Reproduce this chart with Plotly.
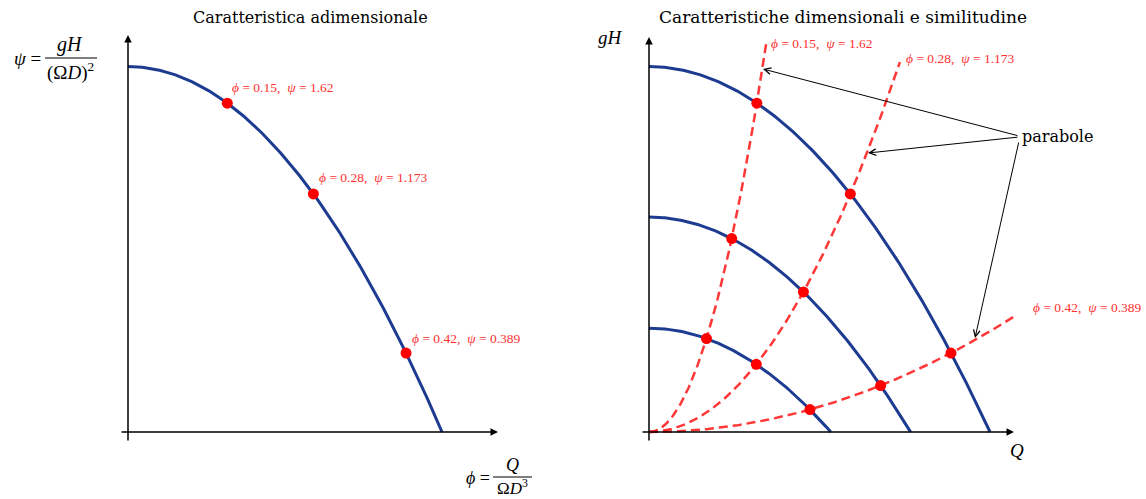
import numpy as np
import plotly.graph_objects as go

# ---- data ----
PHI = [0.15, 0.28, 0.42]          # flow coefficient of the marked points
PSI = [1.62, 1.173, 0.389]        # head coefficient of the marked points
PSI0 = 1.8                        # characteristic: psi = PSI0 - K*phi^2
K = 8.0
OMEGA = [1.0, 0.767, 0.533]       # relative speeds of the three dimensional curves
Q_END = [0.163, 0.349, 0.511]     # where each similarity parabola stops
LABELS = ["\u03d5 = 0.15,\u00a0\u00a0\u03c8 = 1.62",
          "\u03d5 = 0.28,\u00a0\u00a0\u03c8 = 1.173",
          "\u03d5 = 0.42,\u00a0\u00a0\u03c8 = 0.389"]

W, H = 1146, 499
X0L, SXL = 128, 662
X0R, SXR = 649, 719
Y0, SY = 432, 203

BLUE = "#1d3c91"
RED = "#ff0000"
DRED = "rgba(255,20,20,0.85)"
LRED = "#ff3030"
SERIF = "DejaVu Serif"
MATH = "Liberation Serif"


def lab(s):
    s = s.replace("\u03d5", "<i>\u03d5</i>").replace("\u03c8", "<i>\u03c8</i>")
    return s


def pxL(px, py):
    return (px - X0L) / SXL, (Y0 - py) / SY


def pxR(px, py):
    return (px - X0R) / SXR, (Y0 - py) / SY


fig = go.Figure()

# left: dimensionless characteristic
phi_max = np.sqrt(PSI0 / K)
phi = np.linspace(0, phi_max, 200)
fig.add_trace(go.Scatter(x=phi, y=PSI0 - K * phi**2, mode="lines",
                         line=dict(color=BLUE, width=3), xaxis="x", yaxis="y",
                         hoverinfo="skip"))
fig.add_trace(go.Scatter(x=PHI, y=PSI, mode="markers",
                         marker=dict(color=RED, size=11), xaxis="x", yaxis="y"))

# right: dimensional curves
for om in OMEGA:
    q = np.linspace(0, phi_max * om, 200)
    gh = (PSI0 - K * (q / om) ** 2) * om**2
    fig.add_trace(go.Scatter(x=q, y=gh, mode="lines",
                             line=dict(color=BLUE, width=3), xaxis="x2", yaxis="y2",
                             hoverinfo="skip"))
for p, s, qe in zip(PHI, PSI, Q_END):
    q = np.linspace(0, qe, 200)
    fig.add_trace(go.Scatter(x=q, y=s / p**2 * q**2, mode="lines",
                             line=dict(color=DRED, width=2.5, dash="9px,5px"),
                             xaxis="x2", yaxis="y2", hoverinfo="skip"))
qs, hs = [], []
for om in OMEGA:
    for p, s in zip(PHI, PSI):
        qs.append(p * om)
        hs.append(s * om**2)
fig.add_trace(go.Scatter(x=qs, y=hs, mode="markers",
                         marker=dict(color=RED, size=11), xaxis="x2", yaxis="y2"))

ann = []
shapes = []

# axis arrows
def arrow(ref, x0, y0, x1, y1, head=2, width=1.5, size=1.0, color="black"):
    xr, yr = ("x", "y") if ref == "L" else ("x2", "y2")
    f = pxL if ref == "L" else pxR
    ax, ay = f(x0, y0)
    x, y = f(x1, y1)
    ann.append(dict(x=x, y=y, ax=ax, ay=ay, xref=xr, yref=yr, axref=xr, ayref=yr,
                    showarrow=True, arrowhead=head, arrowwidth=width, arrowsize=size,
                    arrowcolor=color, text="", standoff=0, startstandoff=0))

arrow("L", 120, 432, 498, 432)
arrow("L", 128, 442, 128, 35)
arrow("R", 641, 432, 1014, 432)
arrow("R", 649, 442, 649, 37)

# parabole pointers
arrow("R", 1019, 136, 763, 69, head=5, width=1, size=1.3)
arrow("R", 1019, 137, 868, 153, head=5, width=1, size=1.3)
arrow("R", 1019, 141, 975, 338, head=5, width=1, size=1.3)


def ptext(px, py, text, size, xanchor="center", color="black", family=MATH):
    ann.append(dict(x=px / W, y=1 - py / H, xref="paper", yref="paper", text=text,
                    showarrow=False, xanchor=xanchor, yanchor="middle",
                    font=dict(family=family, size=size, color=color)))


def hbar(x0, x1, y):
    shapes.append(dict(type="line", xref="paper", yref="paper", x0=x0 / W, x1=x1 / W,
                       y0=1 - y / H, y1=1 - y / H, line=dict(color="black", width=1)))

# titles
ptext(310, 17, "Caratteristica adimensionale", 16, family=SERIF)
ptext(843, 17, "Caratteristiche dimensionali e similitudine", 17, family=SERIF)
ptext(1020, 137, "parabole", 16, xanchor="left", family=SERIF)

# psi = gH/(Omega D)^2
ptext(27, 58, "<i>\u03c8</i> =", 19)
ptext(70, 45, "<i>gH</i>", 20)
ptext(70, 71, "(\u03a9<i>D</i>)<sup>2</sup>", 19)
hbar(45, 97, 58)

# phi = Q/(Omega D^3)
ptext(478, 478, "<i>\u03d5</i> =", 18)
ptext(512, 465, "<i>Q</i>", 18)
ptext(512, 487, "\u03a9<i>D</i><sup>3</sup>", 17)
hbar(493, 532, 477)

ptext(610, 38, "<i>gH</i>", 19)
ptext(1017, 450, "<i>Q</i>", 19)

# point labels, left panel
for p, s, t, dx, dy in zip(PHI, PSI, LABELS, [3, 4, 4], [16, 16, 15]):
    ann.append(dict(x=p, y=s, xref="x", yref="y", text=lab(t), showarrow=False,
                    xanchor="left", yanchor="middle", xshift=dx, yshift=dy,
                    font=dict(family=MATH, size=13.5, color=LRED)))
# point labels, right panel (at the end of each parabola)
for p, s, qe, t, dx, dy in zip(PHI, PSI, Q_END, LABELS, [3, 4, 15], [0, 4, 8]):
    ann.append(dict(x=qe, y=s / p**2 * qe**2, xref="x2", yref="y2", text=lab(t),
                    showarrow=False, xanchor="left", yanchor="middle",
                    xshift=dx, yshift=dy,
                    font=dict(family=MATH, size=13.5, color=LRED)))

ax_common = dict(visible=False, showgrid=False, zeroline=False, fixedrange=True)
fig.update_layout(
    width=W, height=H, margin=dict(l=0, r=0, t=0, b=0),
    plot_bgcolor="white", paper_bgcolor="white", showlegend=False,
    xaxis=dict(domain=[0, 0.5], range=[(0 - X0L) / SXL, (573 - X0L) / SXL], **ax_common),
    yaxis=dict(domain=[0, 1], range=[(Y0 - H) / SY, Y0 / SY], anchor="x", **ax_common),
    xaxis2=dict(domain=[0.5, 1], range=[(573 - X0R) / SXR, (W - X0R) / SXR],
                anchor="y2", **ax_common),
    yaxis2=dict(domain=[0, 1], range=[(Y0 - H) / SY, Y0 / SY], anchor="x2", **ax_common),
    annotations=ann, shapes=shapes,
)

fig.write_html("out.html", config={"displayModeBar": False},
               post_script="document.body.style.margin='0';document.body.style.overflow='hidden';")
